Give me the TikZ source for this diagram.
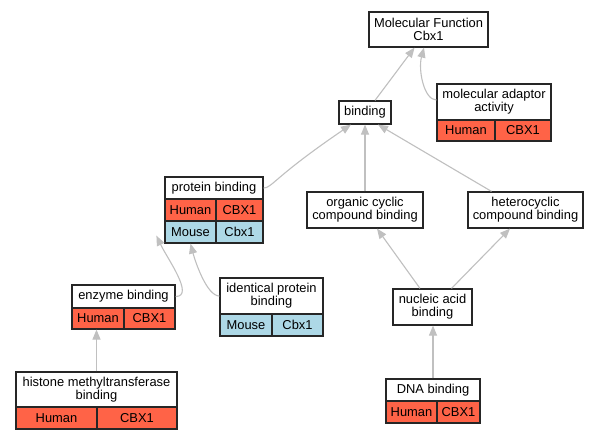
\documentclass[tikz,border=0pt]{standalone}
\usepackage{fontspec}
\setmainfont{Liberation Sans}
\usetikzlibrary{arrows.meta}
\definecolor{humanc}{HTML}{FF6347}
\definecolor{mousec}{HTML}{ADD8E6}
\definecolor{edgec}{HTML}{C0C0C0}
\begin{document}
\begin{tikzpicture}[x=1pt,y=-1pt,
  box/.style={draw=black!85, line width=1.2pt, fill=white, inner sep=0pt, align=center,
    font=\fontsize{12.9}{13}\selectfont},
  hum/.style={box, fill=humanc},
  mou/.style={box, fill=mousec},
  edge/.style={draw=edgec, line width=1.1pt, -{Triangle[length=10pt,width=8pt]}}]
\useasboundingbox[fill=white] (0,0) rectangle (599,440);

% Molecular Function
\node[box, minimum width=119pt, minimum height=35pt] (mf) at (428.5,29.5) {Molecular Function\\Cbx1};
% molecular adaptor activity
\node[box, minimum width=114pt, minimum height=36pt] (adh) at (494,102) {molecular adaptor\\activity};
\node[hum, minimum width=58pt, minimum height=21pt] (adhum) at (466,130.5) {Human};
\node[hum, minimum width=56pt, minimum height=21pt] (adgene) at (523,130.5) {CBX1};
% binding
\node[box, minimum width=52pt, minimum height=23pt] (bind) at (365,112.5) {binding};
% protein binding
\node[box, minimum width=98pt, minimum height=22pt] (pbh) at (214,188) {protein binding};
\node[hum, minimum width=51pt, minimum height=22pt] (pbhum) at (190.5,210) {Human};
\node[hum, minimum width=47pt, minimum height=22pt] (pbgene) at (239.5,210) {CBX1};
\node[mou, minimum width=51pt, minimum height=22pt] (pbmou) at (190.5,232) {Mouse};
\node[mou, minimum width=47pt, minimum height=22pt] (pbmgene) at (239.5,232) {Cbx1};
% organic / heterocyclic
\node[box, minimum width=116pt, minimum height=36pt] (org) at (365,210) {organic cyclic\\compound binding};
\node[box, minimum width=115pt, minimum height=36pt] (het) at (525.5,210) {heterocyclic\\compound binding};
% nucleic acid binding
\node[box, minimum width=79pt, minimum height=36pt] (nuc) at (432.5,307) {nucleic acid\\binding};
% DNA binding
\node[box, minimum width=94pt, minimum height=22pt] (dnah) at (433,390) {DNA binding};
\node[hum, minimum width=51pt, minimum height=22pt] (dnahum) at (411.5,412) {Human};
\node[hum, minimum width=43pt, minimum height=22pt] (dnagene) at (458.5,412) {CBX1};
% enzyme binding
\node[box, minimum width=103pt, minimum height=23pt] (enh) at (123.5,296.5) {enzyme binding};
\node[hum, minimum width=52pt, minimum height=21pt] (enhum) at (98,318.5) {Human};
\node[hum, minimum width=51pt, minimum height=21pt] (engene) at (149.5,318.5) {CBX1};
% identical protein binding
\node[box, minimum width=103pt, minimum height=36pt] (idh) at (271.5,296) {identical protein\\binding};
\node[mou, minimum width=52pt, minimum height=22pt] (idmou) at (246,325) {Mouse};
\node[mou, minimum width=51pt, minimum height=22pt] (idgene) at (297.5,325) {Cbx1};
% histone methyltransferase binding
\node[box, minimum width=161pt, minimum height=35pt] (hish) at (96.5,389.5) {histone methyltransferase\\binding};
\node[hum, minimum width=81pt, minimum height=22pt] (hishum) at (56.5,418) {Human};
\node[hum, minimum width=80pt, minimum height=22pt] (hisgene) at (137,418) {CBX1};

% edges
\draw[edge] ([xshift=10pt]bind.north) -- ([xshift=-14pt]mf.south);
\draw[edge] ([yshift=2pt]adh.west) .. controls (424,100) and (418,70) .. ([xshift=-4.5pt]mf.south);
\draw[edge] (pbh.east) .. controls (272,188) and (274,177) .. ([xshift=-14pt]bind.south);
\draw[edge] (org.north) -- (bind.south);
\draw[edge] ([xshift=-34pt]het.north) -- ([xshift=13pt]bind.south);
\draw[edge] ([xshift=-12.5pt]nuc.north) -- ([xshift=12pt]org.south);
\draw[edge] ([xshift=19pt]nuc.north) -- ([xshift=-15.5pt]het.south);
\draw[edge] (dnah.north) -- (dnah.north |- nuc.south);
\draw[edge] (hish.north) -- (hish.north |- enhum.south);
\draw[edge] (enh.east) .. controls (195,296.5) and (167,258) .. ([xshift=-8pt,yshift=8pt]pbmou.south west);
\draw[edge] (idh.west) .. controls (207,296) and (195.5,262.5) .. (pbmou.south);
\end{tikzpicture}
\end{document}
